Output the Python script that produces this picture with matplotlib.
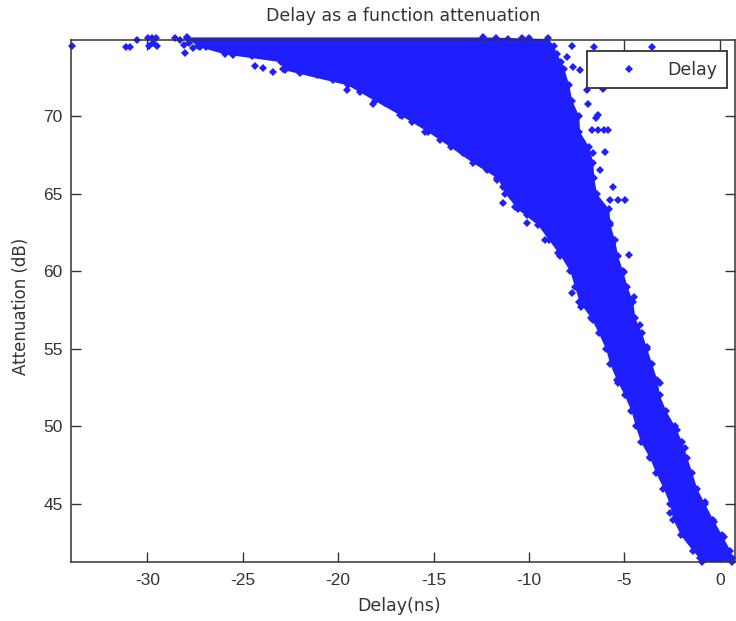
#!/usr/bin/env python3

import matplotlib
matplotlib.use('Agg')
import matplotlib.pyplot as plt

# attenuation rows of the dense part of the cloud, with its left/right extent
levels = [41.3, 41.5, 42, 43, 44, 45, 46, 47, 48, 49, 50, 51, 52, 53, 54, 55, 56, 57,
          58, 59, 60, 61, 62, 63, 64, 65, 66, 67, 68, 69, 70, 71, 72, 73, 73.5, 74, 74.5, 75, 75.1]
left_delay = [-0.95, -1.05, -1.42, -2.05, -2.45, -2.63, -2.95, -3.35, -3.68, -4.15,
              -4.41, -4.65, -4.99, -5.41, -5.75, -5.98, -6.35, -6.75, -7.35, -7.61,
              -7.85, -8.35, -8.95, -9.55, -10.59, -11.25, -11.65, -12.95, -14.11,
              -15.31, -16.65, -18.09, -19.5, -22.9, -23.0, -25.95, -27.35, -27.9, -27.9]
right_delay = [0.65, 0.65, 0.55, 0.11, -0.35, -0.78, -1.2, -1.45, -1.72, -1.98,
               -2.35, -2.82, -3.15, -3.29, -3.55, -3.82, -4.08, -4.45, -4.55, -4.85,
               -5.08, -5.35, -5.5, -5.75, -5.81, -6.45, -6.6, -6.65, -6.85, -7.35,
               -7.38, -7.75, -7.91, -8.15, -8.3, -8.55, -8.69, -9.0, -12.4]

# single points and edge points
extra_delay = [-33.96, -31.13, -30.92, -30.55, -29.98, -29.93, -29.77, -29.56, -29.5, -29.7,
               -28.56, -28.3, -28.1, -28.04, -27.6, -27.25, -26.9, -27.8, -24.37, -23.95,
               -25.5, -24.5, -23.43, -22.8, -22.0, -21.1, -20.28, -19.55, -18.87, -18.19,
               -18.19, -17.56, -17.14, -16.77, -16.14, -15.46, -14.67, -14.05, -13.47,
               -12.84, -12.2, -11.69, -11.37, -11.37, -10.74, -10.1, -10.1, -9.17, -8.49,
               -7.76, -7.76, -6.6, -3.56, -8.02, -7.7, -7.34, -6.92, -6.97, -6.13, -6.39,
               -6.5, -6.7, -6.39, -6.08, -5.87, -6.66, -6.03, -6.29, -5.6, -5.77, -5.35,
               -4.98, -4.77, -5.76, -5.03, -4.51, -4.2, -3.83, -3.15, -2.68, -2.26, -1.84,
               -0.79, -0.32, 0.21, -7.28, -6.65, -5.34, -3.67, -2.62,
               -11.7, -11.1, -10.35, -9.98, -9.35]
extra_atten = [74.5, 74.44, 74.44, 74.9, 75.0, 74.5, 75.0, 75.0, 74.5, 74.7,
               75.0, 74.9, 74.6, 74.06, 74.4, 74.44, 74.44, 74.7, 73.2, 73.1,
               73.95, 73.9, 72.83, 72.96, 72.77, 72.64, 72.32, 71.67, 71.55, 71.48,
               70.77, 70.84, 70.58, 70.06, 69.6, 68.97, 68.45, 68.3, 67.62,
               67.17, 66.5, 65.88, 65.43, 64.4, 64.14, 63.63, 63.1, 62.0, 61.18,
               58.6, 74.5, 74.44, 74.44, 73.8, 73.16, 72.96, 70.77, 71.67, 71.74, 70.06,
               69.87, 69.1, 69.1, 69.1, 69.1, 67.62, 67.68, 66.52, 65.43, 64.6, 64.6,
               64.6, 61.05, 63.1, 59.95, 58.34, 56.54, 55.13, 52.8, 50.23, 49.78, 48.62,
               45.14, 43.86, 42.9, 57.7, 56.86, 52.8, 48.04, 44.44,
               75.0, 74.95, 75.0, 75.0, 74.7]

x_ticks = [-30, -25, -20, -15, -10, -5, 0]
y_ticks = [45, 50, 55, 60, 65, 70]

BLUE = '#1e1eff'
DARK = '#333333'

if __name__ == '__main__':
    plt.rcParams['font.family'] = ['Liberation Sans', 'DejaVu Sans']
    plt.rcParams['axes.unicode_minus'] = False

    fig = plt.figure(figsize=(7.36, 6.21), dpi=100)
    ax = fig.add_axes([71 / 736, 1 - 562 / 621, 664 / 736, 522 / 621])

    ax.fill_betweenx(levels, left_delay, right_delay, color=BLUE, lw=0, clip_on=False, zorder=2)
    ax.plot(left_delay, levels, 'D', color=BLUE, ms=4.3, mew=0, clip_on=False, zorder=2)
    ax.plot(right_delay, levels, 'D', color=BLUE, ms=4.3, mew=0, clip_on=False, zorder=2)
    ax.plot(extra_delay, extra_atten, 'D', color=BLUE, ms=4.3, mew=0, clip_on=False, zorder=2,
            label='Delay')

    ax.set_xlim(-34.0, 0.8)
    ax.set_ylim(41.27, 74.9)
    ax.set_xticks(x_ticks)
    ax.set_yticks(y_ticks)
    ax.tick_params(direction='in', length=7, width=1, top=True, right=True,
                   color=DARK, labelcolor=DARK, labelsize=12.5)
    ax.tick_params(axis='x', pad=8)
    ax.tick_params(axis='y', pad=6)
    for spine in ax.spines.values():
        spine.set_linewidth(1.1)
        spine.set_color(DARK)
        spine.set_zorder(3)

    ax.set_title('Delay as a function attenuation', fontsize=12.5, color=DARK, pad=14,
                 family='DejaVu Sans')
    ax.set_xlabel('Delay(ns)', fontsize=12.5, color=DARK, family='DejaVu Sans')
    ax.set_ylabel('Attenuation (dB)', fontsize=12, color=DARK, family='DejaVu Sans')
    ax.xaxis.set_label_coords(0.494, -0.067)
    ax.yaxis.set_label_coords(-0.062, 0.49)

    leg = ax.legend(loc='upper right', bbox_to_anchor=(0.9885, 0.9795), borderaxespad=0,
                    fancybox=False, framealpha=1, edgecolor=DARK,
                    borderpad=0.57, handlelength=3.8, handletextpad=0.29, labelcolor=DARK,
                    prop={'family': 'DejaVu Sans', 'size': 12.5})
    leg.get_frame().set_linewidth(1.3)
    leg.set_zorder(5)

    fig.savefig('out.png', dpi=100)
